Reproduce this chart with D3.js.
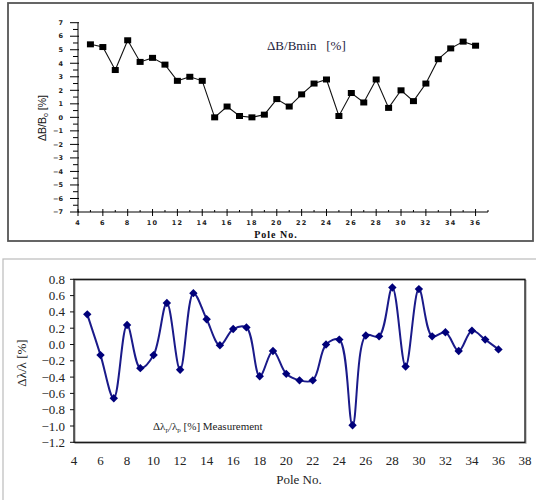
<!DOCTYPE html>
<html><head><meta charset="utf-8">
<script src="https://cdn.jsdelivr.net/npm/d3@7"></script>
<style>body{margin:0;background:#fff}svg{display:block}</style>
</head><body>
<svg id="c" width="536" height="500"></svg>
<script>
const poles = d3.range(5, 37);
const deltaB = [5.4,5.2,3.5,5.7,4.1,4.4,3.9,2.7,3.0,2.7,0.0,0.8,0.1,0.0,0.2,1.35,0.8,1.7,2.5,2.8,0.1,1.8,1.1,2.8,0.7,2.0,1.2,2.5,4.3,5.1,5.6,5.3];
const deltaLambda = [0.37,-0.13,-0.66,0.24,-0.29,-0.13,0.51,-0.31,0.63,0.31,-0.01,0.19,0.21,-0.39,-0.08,-0.36,-0.44,-0.44,0.0,0.06,-0.99,0.11,0.10,0.70,-0.27,0.68,0.10,0.15,-0.08,0.17,0.06,-0.06];
const topYTicks = d3.range(-7, 8);
const topXTicks = d3.range(4, 37, 2);
const botYTicks = [-1.2,-1.0,-0.8,-0.6,-0.4,-0.2,0.0,0.2,0.4,0.6,0.8];
const botXTicks = d3.range(4, 39, 2);

const SERIF = "'Liberation Serif','Times New Roman',serif";
const svg = d3.select("#c");

// ---------- TOP CHART ----------
svg.append("rect").attr("x",8).attr("y",3).attr("width",525).attr("height",238)
  .attr("fill","none").attr("stroke","#555").attr("stroke-width",1.8);

const x1 = d3.scaleLinear().domain([4,37]).range([78,488]);
const y1 = d3.scaleLinear().domain([-7,7]).range([212,22.7]);
const g1 = svg.append("g");

g1.append("line").attr("x1",x1(4)).attr("x2",x1(4)).attr("y1",y1(7)).attr("y2",y1(-7)).attr("stroke","#000").attr("stroke-width",1);
g1.append("line").attr("x1",x1(4)).attr("x2",x1(37)).attr("y1",y1(-7)).attr("y2",y1(-7)).attr("stroke","#000").attr("stroke-width",1);
topYTicks.forEach(v=>{
  g1.append("line").attr("x1",x1(4)-8).attr("x2",x1(4)+1).attr("y1",y1(v)).attr("y2",y1(v)).attr("stroke","#000");
  g1.append("text").attr("x",63).attr("y",y1(v)).attr("dy","0.35em").attr("text-anchor","end")
    .attr("font-family","DejaVu Sans").attr("font-weight","bold").attr("font-size",6.5).attr("fill","#222")
    .text(v<0?"\u2212"+Math.abs(v):v);
  if(v<7) g1.append("line").attr("x1",x1(4)-5).attr("x2",x1(4)).attr("y1",y1(v+0.5)).attr("y2",y1(v+0.5)).attr("stroke","#000");
});
topXTicks.forEach(v=>{
  g1.append("line").attr("x1",x1(v)).attr("x2",x1(v)).attr("y1",y1(-7)-3).attr("y2",y1(-7)+4).attr("stroke","#000");
  g1.append("text").attr("x",x1(v)).attr("y",223).attr("dy","0.35em").attr("text-anchor","middle")
    .attr("font-family","DejaVu Sans").attr("font-weight","bold").attr("font-size",6.5).attr("fill","#222")
    .attr("letter-spacing",1.2).text(v);
});
d3.range(5,38,2).forEach(v=>{
  g1.append("line").attr("x1",x1(v)).attr("x2",x1(v)).attr("y1",y1(-7)-2).attr("y2",y1(-7)).attr("stroke","#000");
});
g1.append("text").attr("x",276).attr("y",237.5).attr("text-anchor","middle")
  .attr("font-family",SERIF).attr("font-weight","bold").attr("font-size",10).attr("letter-spacing",1)
  .attr("fill","#111").text("Pole No.");
g1.append("text").attr("transform","translate(46,118) rotate(-90)").attr("text-anchor","middle")
  .attr("font-family","'Liberation Sans Narrow','Liberation Sans',sans-serif").attr("font-size",10.5).attr("fill","#111")
  .html('ΔB/B<tspan font-size="7" dy="2">o</tspan><tspan dy="-2"> [%]</tspan>');
g1.append("text").attr("x",267).attr("y",50).attr("font-family",SERIF).attr("font-size",13)
  .attr("fill","#1c1c3c").attr("xml:space","preserve").text("ΔB/Bmin   [%]");

g1.append("path").datum(deltaB).attr("fill","none").attr("stroke","#111").attr("stroke-width",1.1)
  .attr("d", d3.line().x((d,i)=>x1(poles[i])).y(d=>y1(d)));
g1.selectAll("rect.m").data(deltaB).enter().append("rect").attr("class","m")
  .attr("x",(d,i)=>x1(poles[i])-3.5).attr("y",d=>y1(d)-3).attr("width",7).attr("height",6).attr("fill","#000");

// ---------- BOTTOM CHART ----------
svg.append("rect").attr("x",3).attr("y",259).attr("width",540).attr("height",250)
  .attr("fill","none").attr("stroke","#bbb").attr("stroke-width",1.2);

const x2 = d3.scaleLinear().domain([4,38]).range([74,525]);
const y2 = d3.scaleLinear().domain([-1.2,0.8]).range([442.3,279.3]);
const g2 = svg.append("g");
g2.append("rect").attr("x",x2(4)+1).attr("y",y2(0.8)+1).attr("width",x2(38)-x2(4)).attr("height",y2(-1.2)-y2(0.8))
  .attr("fill","none").attr("stroke","#999").attr("stroke-width",1);
g2.append("rect").attr("x",x2(4)).attr("y",y2(0.8)).attr("width",x2(38)-x2(4)).attr("height",y2(-1.2)-y2(0.8))
  .attr("fill","none").attr("stroke","#111").attr("stroke-width",1.3);
botYTicks.forEach(v=>{
  g2.append("line").attr("x1",x2(4)-4).attr("x2",x2(4)).attr("y1",y2(v)).attr("y2",y2(v)).attr("stroke","#111");
  g2.append("text").attr("x",65).attr("y",y2(v)).attr("dy","0.35em").attr("text-anchor","end")
    .attr("font-family",SERIF).attr("font-size",13).attr("fill","#222").text(d3.format(".1f")(v));
});
botXTicks.forEach(v=>{
  g2.append("text").attr("x",x2(v)).attr("y",465).attr("text-anchor","middle")
    .attr("font-family",SERIF).attr("font-size",13).attr("fill","#222").text(v);
});
g2.append("text").attr("x",299).attr("y",484).attr("text-anchor","middle")
  .attr("font-family",SERIF).attr("font-size",13).attr("fill","#222").text("Pole No.");
g2.append("text").attr("transform","translate(26,363) rotate(-90)").attr("text-anchor","middle")
  .attr("font-family",SERIF).attr("font-size",13).attr("fill","#222").text("Δλ/λ [%]");
g2.append("text").attr("x",153).attr("y",430).attr("font-family",SERIF).attr("font-size",11).attr("fill","#222")
  .html('Δλ<tspan font-size="7" dy="2">p</tspan><tspan dy="-2">/λ</tspan><tspan font-size="7" dy="2">p</tspan><tspan dy="-2"> [%] Measurement</tspan>');

g2.append("path").datum(deltaLambda).attr("fill","none").attr("stroke","#1a1a8a").attr("stroke-width",2)
  .attr("d", d3.line().curve(d3.curveCatmullRom.alpha(0.5)).x((d,i)=>x2(poles[i])).y(d=>y2(d)));
g2.selectAll("path.dm").data(deltaLambda).enter().append("path").attr("class","dm")
  .attr("transform",(d,i)=>`translate(${x2(poles[i])},${y2(d)})`)
  .attr("d", d3.symbol().type(d3.symbolDiamond2).size(45)).attr("fill","#00007a");
</script>
</body></html>
